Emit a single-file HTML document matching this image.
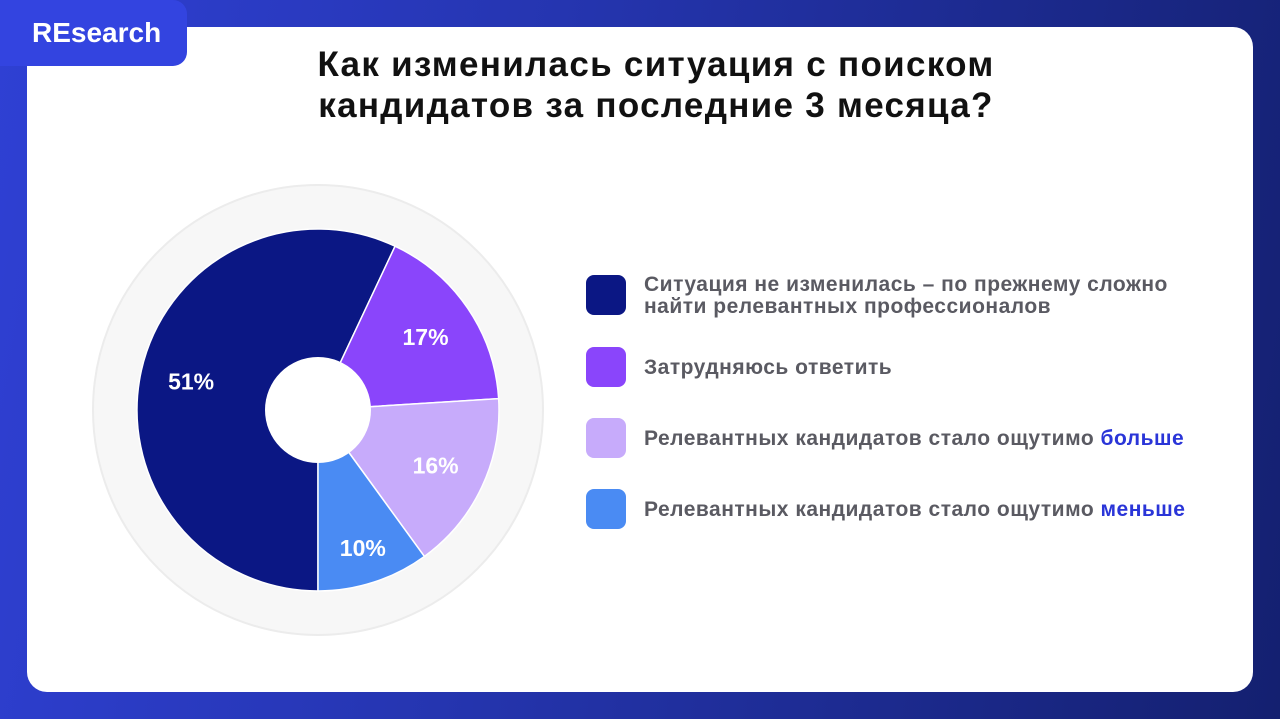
<!DOCTYPE html>
<html><head><meta charset="utf-8"><style>
body{margin:0;width:1280px;height:719px;overflow:hidden;background:linear-gradient(100deg,#2f40d4 0%,#2535b0 40%,#142070 100%);font-family:"Liberation Sans","DejaVu Sans",sans-serif;position:relative}
.card{position:absolute;left:27px;top:27px;width:1226px;height:665px;background:#fff;border-radius:20px}
.badge{position:absolute;left:0;top:0;width:187px;height:66px;background:#3344e0;border-radius:0 14px 14px 0;color:#fff;font-size:28px;font-weight:bold;line-height:66px;text-indent:32px}
.title{position:absolute;left:156px;width:1000px;top:44px;text-align:center;font-size:35px;font-weight:bold;line-height:41px;color:#111;letter-spacing:1.3px}
.leg{position:absolute;left:586px}
.sw{position:absolute;left:0;width:40px;height:40px;border-radius:8px}
.lt{position:absolute;left:58px;white-space:nowrap;font-size:21px;font-weight:bold;color:#5a5a62;line-height:22px;letter-spacing:0.5px}
.lt b{color:#2a35d8}
</style></head><body>
<div class="card"></div>
<div class="badge">REsearch</div>
<div class="title">Как изменилась ситуация с поиском<br>кандидатов за последние 3 месяца?</div>
<svg id="pie" width="1280" height="719" style="position:absolute;left:0;top:0"></svg>
<div class="leg" style="top:275px"><div class="sw" style="background:#0b1784"></div><div class="lt" style="top:-1px">Ситуация не изменилась – по прежнему сложно<br>найти релевантных профессионалов</div></div>
<div class="leg" style="top:347px"><div class="sw" style="background:#8a45fb"></div><div class="lt" style="top:10px">Затрудняюсь ответить</div></div>
<div class="leg" style="top:418px"><div class="sw" style="background:#c7abfb"></div><div class="lt" style="top:10px">Релевантных кандидатов стало ощутимо <b>больше</b></div></div>
<div class="leg" style="top:489px"><div class="sw" style="background:#4a8bf3"></div><div class="lt" style="top:10px">Релевантных кандидатов стало ощутимо <b>меньше</b></div></div>
<script>
const categories=["Ситуация не изменилась","Затрудняюсь ответить","Стало больше","Стало меньше"];
const values=[51,17,16,10];
const labels=["51%","17%","16%","10%"];
const colors=["#0b1784","#8a45fb","#c7abfb","#4a8bf3"];
const NS="http://www.w3.org/2000/svg",svg=document.getElementById('pie');
const cx=318,cy=410,R=181,r0=53;
function pt(a,rad){const t=a*Math.PI/180;return [cx+rad*Math.sin(t),cy-rad*Math.cos(t)];}
const bg=document.createElementNS(NS,'circle');


bg.setAttribute('cx',cx);bg.setAttribute('cy',cy);bg.setAttribute('r',225);bg.setAttribute('fill','#f7f7f7');bg.setAttribute('stroke','#ececec');bg.setAttribute('stroke-width','2');
svg.appendChild(bg);
let end=180;const spans=[];
for(let i=values.length-1;i>=1;i--){const s=end-values[i]*3.6;spans[i]=[s,end];end=s;}
spans[0]=[180,end+360];
spans.forEach((sp,i)=>{
 const [a0,a1]=sp,p0=pt(a0,R),p1=pt(a1,R),large=(a1-a0)>180?1:0;
 const p=document.createElementNS(NS,'path');
 
 
 p.setAttribute('d',`M${cx},${cy}L${p0[0]},${p0[1]}A${R},${R} 0 ${large} 1 ${p1[0]},${p1[1]}Z`);
 p.setAttribute('fill',colors[i]);p.setAttribute('stroke','#fff');p.setAttribute('stroke-width','1.5');
 svg.appendChild(p);
});
spans.forEach((sp,i)=>{
 const mid=(sp[0]+sp[1])/2,rr=(sp[1]-sp[0])<45?145:130,q=pt(mid,rr);
 const t=document.createElementNS(NS,'text');
 
 
 t.setAttribute('x',q[0]);t.setAttribute('y',q[1]+8);t.setAttribute('text-anchor','middle');
 t.setAttribute('fill','#fff');t.setAttribute('font-size','23');t.setAttribute('font-weight','bold');t.setAttribute('font-family','Liberation Sans, sans-serif');
 t.textContent=labels[i];svg.appendChild(t);
});
const hole=document.createElementNS(NS,'circle');


hole.setAttribute('cx',cx);hole.setAttribute('cy',cy);hole.setAttribute('r',r0);hole.setAttribute('fill','#fff');
svg.appendChild(hole);
</script>
</body></html>
